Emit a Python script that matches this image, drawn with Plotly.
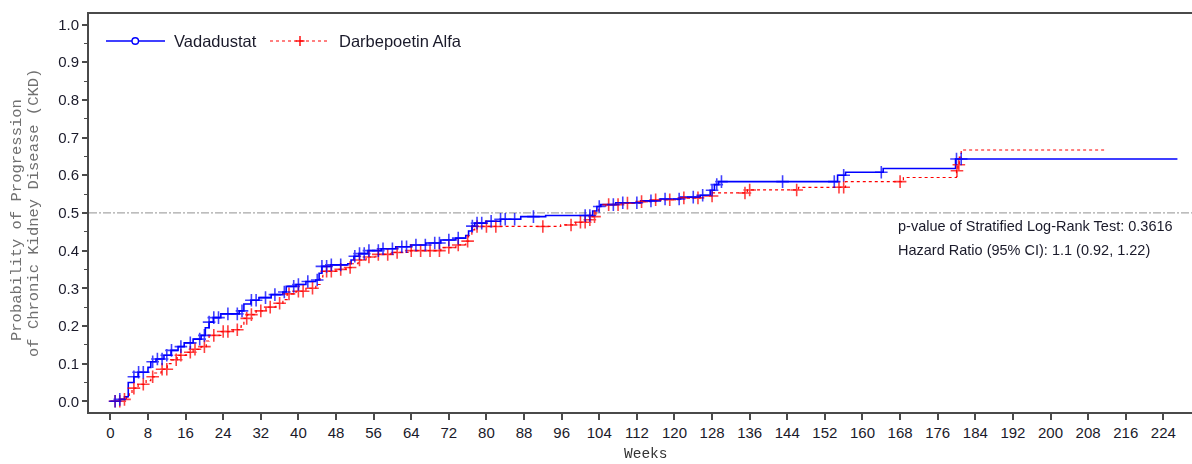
import numpy as np
import plotly.graph_objects as go

# Kaplan-Meier estimates: week of each event and cumulative probability after it
vad_weeks = [2, 3, 3.8, 5, 5.9, 8, 8.6, 9.7, 11.4, 12.9, 14.4, 15.7, 17.6, 19.3, 20.2,
             21, 21.9, 23.5, 27.4, 28.4, 29.9, 31.6, 34.2, 36.7, 37.4, 39.5, 41.6, 43.7,
             44.4, 45, 46.9, 50.5, 51.2, 51.8, 52.9, 54.8, 57.6, 60.7, 63.9, 67.1, 70.3,
             73.5, 75.6, 76.2, 76.9, 77.5, 79.9, 83, 87.3, 92.6, 102.6, 103.5, 104.3,
             107.5, 112.8, 117, 121.3, 125.5, 127.6, 128.5, 129.4, 154.7, 156.4, 164.4, 179.8]
vad_prob = [0.005, 0.012, 0.05, 0.065, 0.077, 0.09, 0.105, 0.112, 0.122, 0.135, 0.145,
            0.155, 0.165, 0.175, 0.195, 0.21, 0.222, 0.232, 0.24, 0.258, 0.268, 0.275,
            0.283, 0.29, 0.305, 0.31, 0.318, 0.322, 0.34, 0.358, 0.362, 0.365, 0.375,
            0.385, 0.392, 0.40, 0.405, 0.41, 0.415, 0.42, 0.428, 0.433, 0.44, 0.452,
            0.465, 0.473, 0.478, 0.483, 0.49, 0.493, 0.505, 0.517, 0.522, 0.527, 0.532,
            0.537, 0.542, 0.547, 0.56, 0.575, 0.583, 0.60, 0.608, 0.618, 0.643]
vad_last_week = 227

dar_weeks = [2.3, 3.4, 4, 4.6, 5.9, 7.6, 8.6, 9.3, 10.8, 12.1, 12.9, 14.2, 16.1, 17.6,
             19.3, 20.4, 21, 23.5, 26.1, 27.8, 28.4, 29.1, 31, 33.1, 35.2, 36.7, 37.6,
             39.5, 41.6, 43.7, 44.6, 45.2, 48, 50.1, 51.2, 52.7, 54.4, 56.5, 59.7, 63.9,
             70.3, 73.5, 75.6, 76.2, 76.9, 77.5, 95.8, 99, 101.1, 102.2, 103.3, 103.9,
             105.4, 108.6, 112.8, 116, 121.3, 125.5, 128.1, 135.5, 146.4, 156.4, 168.7,
             180.0, 180.3, 180.6, 181.0]
dar_prob = [0.005, 0.01, 0.02, 0.035, 0.045, 0.055, 0.065, 0.075, 0.085, 0.1, 0.11,
            0.122, 0.13, 0.138, 0.145, 0.16, 0.175, 0.185, 0.19, 0.2, 0.22, 0.23, 0.24,
            0.25, 0.26, 0.27, 0.285, 0.292, 0.30, 0.31, 0.33, 0.345, 0.35, 0.355, 0.365,
            0.375, 0.383, 0.39, 0.395, 0.40, 0.408, 0.415, 0.425, 0.44, 0.455, 0.464,
            0.468, 0.475, 0.482, 0.49, 0.505, 0.518, 0.522, 0.526, 0.53, 0.535, 0.54,
            0.545, 0.553, 0.561, 0.568, 0.583, 0.594, 0.612, 0.628, 0.648, 0.667]
dar_last_week = 211.4

# Censoring times (weeks)
vad_censor = [1, 2, 5, 6, 7, 9, 10, 11, 12, 13, 15, 17, 19, 20, 21, 22, 23, 25, 27, 28,
              30, 31, 33, 35, 37, 39, 40, 42, 44, 45, 46, 47, 49, 52, 53, 54, 55, 57, 58,
              60, 62, 63, 65, 67, 69, 70, 72, 74, 77, 78, 79, 81, 83, 84, 86, 90, 101,
              102, 104, 107, 109, 112, 115, 118, 121, 124, 126, 128, 129, 130, 143, 154,
              156, 164, 180, 181]
dar_censor = [1, 2, 3, 5, 7, 9, 11, 12, 14, 15, 17, 18, 20, 22, 24, 25, 27, 29, 30, 32,
              34, 36, 38, 40, 41, 43, 46, 47, 49, 51, 53, 55, 57, 59, 61, 64, 66, 68, 70,
              72, 74, 76, 78, 80, 82, 92, 98, 100, 101, 102, 103, 106, 108, 110, 113, 116,
              119, 122, 125, 128, 135, 136, 146, 155, 156, 168, 180.1, 180.5]

x_ticks = list(range(0, 232, 8))
y_ticks = [round(v * 0.1, 1) for v in range(11)]
ref_level = 0.5

stats_lines = ["p-value of Stratified Log-Rank Test: 0.3616",
               "Hazard Ratio (95% CI): 1.1 (0.92, 1.22)"]

BLUE = "#0000ff"
RED = "#ff0000"
AXIS = "#4a4a4a"
W, H = 1192, 464
ML, MR, MT, MB = 89, 0, 14, 52


def step_xy(weeks, prob, last):
    xs = [0.0] + list(weeks) + [last]
    ys = [0.0] + list(prob) + [prob[-1]]
    return xs, ys


def at_times(weeks, prob, times):
    w = np.asarray(weeks)
    p = np.concatenate([[0.0], prob])
    idx = np.searchsorted(w, np.asarray(times), side="right")
    return p[idx]


def px(xp):
    return (xp - ML) / (W - ML - MR)


def py(yp):
    return (H - MB - yp) / (H - MB - MT)


fig = go.Figure()

vx, vy = step_xy(vad_weeks, vad_prob, vad_last_week)
dx, dy = step_xy(dar_weeks, dar_prob, dar_last_week)

fig.add_trace(go.Scatter(x=dx, y=dy, mode="lines", line_shape="hv",
                         line=dict(color=RED, width=1.2, dash="dot"),
                         name="Darbepoetin Alfa", showlegend=False))
fig.add_trace(go.Scatter(x=vx, y=vy, mode="lines", line_shape="hv",
                         line=dict(color=BLUE, width=1.6),
                         name="Vadadustat", showlegend=False))

fig.add_trace(go.Scatter(x=dar_censor, y=at_times(dar_weeks, dar_prob, dar_censor),
                         mode="markers", opacity=0.75,
                         marker=dict(symbol="cross-thin", size=9,
                                     line=dict(color=RED, width=1.6)),
                         showlegend=False, hoverinfo="skip"))
fig.add_trace(go.Scatter(x=vad_censor, y=at_times(vad_weeks, vad_prob, vad_censor),
                         mode="markers", opacity=0.75,
                         marker=dict(symbol="cross-thin", size=9,
                                     line=dict(color=BLUE, width=1.6)),
                         showlegend=False, hoverinfo="skip"))

shapes = []
annotations = []

# reference line at 50%
shapes.append(dict(type="line", xref="paper", yref="y", x0=0, x1=1,
                   y0=ref_level, y1=ref_level, layer="below",
                   line=dict(color="#a8a8a8", width=1.2, dash="8px,2px,2px,2px")))

# legend drawn inside the plot area
shapes.append(dict(type="line", xref="paper", yref="paper", x0=px(106), x1=px(165),
                   y0=py(41), y1=py(41), line=dict(color=BLUE, width=1.6)))
shapes.append(dict(type="circle", xref="paper", yref="paper", x0=px(132), x1=px(138.5),
                   y0=py(44.2), y1=py(37.8), fillcolor="white",
                   line=dict(color=BLUE, width=1.4)))
shapes.append(dict(type="line", xref="paper", yref="paper", x0=px(270), x1=px(329),
                   y0=py(41), y1=py(41), line=dict(color=RED, width=1.2, dash="dot")))
shapes.append(dict(type="line", xref="paper", yref="paper", x0=px(300), x1=px(300),
                   y0=py(46), y1=py(36), line=dict(color=RED, width=1.4)))
shapes.append(dict(type="line", xref="paper", yref="paper", x0=px(295.5), x1=px(304.5),
                   y0=py(41), y1=py(41), line=dict(color=RED, width=1.4)))

legend_font = dict(family="Liberation Sans, Arial", size=16.5, color="#1a1a2a")
annotations.append(dict(text="Vadadustat", xref="paper", yref="paper", x=px(172),
                        y=py(41), xanchor="left", yanchor="middle", showarrow=False,
                        font=legend_font))
annotations.append(dict(text="Darbepoetin Alfa", xref="paper", yref="paper", x=px(337),
                        y=py(41), xanchor="left", yanchor="middle", showarrow=False,
                        font=legend_font))

stat_font = dict(family="Liberation Sans, Arial", size=14.5, color="#1a1a2a")
for line, yc in zip(stats_lines, [226, 250]):
    annotations.append(dict(text=line, xref="paper", yref="paper", x=px(896), y=py(yc),
                            xanchor="left", yanchor="middle", showarrow=False,
                            font=stat_font))

# axis titles
mono = "Liberation Mono, Courier New, monospace"
annotations.append(dict(text="Probability of Progression", xref="paper", yref="paper",
                        x=px(17), y=py(220), textangle=-90, xanchor="center",
                        yanchor="middle", showarrow=False,
                        font=dict(family=mono, size=15.5, color="#707070")))
annotations.append(dict(text="of Chronic Kidney Disease (CKD)", xref="paper",
                        yref="paper", x=px(34), y=py(213), textangle=-90,
                        xanchor="center", yanchor="middle", showarrow=False,
                        font=dict(family=mono, size=15.5, color="#707070")))
annotations.append(dict(text="Weeks", xref="paper", yref="paper", x=px(646), y=py(463),
                        xanchor="center", yanchor="bottom", showarrow=False,
                        borderpad=0,
                        font=dict(family=mono, size=14.5, color="#333333")))

tick_font = dict(family="Liberation Sans, Arial", size=15, color="#1a1a2a")

fig.update_layout(
    width=W, height=H,
    margin=dict(l=ML, r=MR, t=MT, b=MB, pad=0),
    paper_bgcolor="white", plot_bgcolor="white",
    showlegend=False,
    shapes=shapes, annotations=annotations,
    xaxis=dict(range=[-4.55, 230.1], tickmode="array", tickvals=x_ticks,
               ticktext=[str(t) for t in x_ticks], ticks="outside", ticklen=6,
               tickwidth=1.5, tickcolor=AXIS, showgrid=False, zeroline=False,
               showline=True, linecolor=AXIS, linewidth=2, mirror=True,
               tickfont=tick_font),
    yaxis=dict(range=[-0.0285, 1.028], tickmode="array", tickvals=y_ticks,
               ticktext=[f"{t:.1f}" for t in y_ticks], ticks="outside", ticklen=5,
               tickwidth=1.5, tickcolor=AXIS, showgrid=False, zeroline=False,
               showline=True, linecolor=AXIS, linewidth=2,
               minor=dict(tickvals=[round(0.05 + 0.1 * i, 2) for i in range(10)],
                          ticks="outside", ticklen=3, tickcolor=AXIS, tickwidth=1.2),
               tickfont=tick_font),
)

fig.write_html("out.html")
